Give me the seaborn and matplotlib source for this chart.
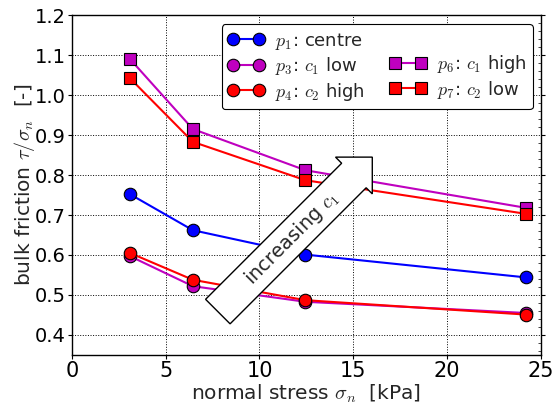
import matplotlib
matplotlib.use("Agg")
import matplotlib.pyplot as plt
import seaborn as sns
import pandas as pd
from matplotlib.lines import Line2D
from matplotlib.ticker import AutoMinorLocator

sns.set_style("white")
plt.rcParams['font.family'] = ['DejaVu Sans']
plt.rcParams['mathtext.fontset'] = 'cm'

sigma_n = [3.1, 6.45, 12.45, 24.2]
p1_centre = [0.752, 0.662, 0.601, 0.544]
p3_c1_low = [0.597, 0.522, 0.483, 0.455]
p4_c2_high = [0.605, 0.538, 0.487, 0.451]
p6_c1_high = [1.090, 0.915, 0.812, 0.718]
p7_c2_low = [1.042, 0.883, 0.787, 0.703]

labels = [r"$p_1$: centre", r"$p_3$: $c_1$ low", r"$p_4$: $c_2$ high",
          r"$p_6$: $c_1$ high", r"$p_7$: $c_2$ low"]
series = [p1_centre, p3_c1_low, p4_c2_high, p6_c1_high, p7_c2_low]
colors = ["#0000ff", "#bf00bf", "#ff0000", "#bf00bf", "#ff0000"]
markers = ["o", "o", "o", "s", "s"]

fig = plt.figure(figsize=(5.57, 4.08), dpi=100)
ax = fig.add_axes([0.129, 0.130, 0.842, 0.833])

handles = []
for vals, lab, c, m in zip(series, labels, colors, markers):
    df = pd.DataFrame({"x": sigma_n, "y": vals})
    sns.lineplot(data=df, x="x", y="y", ax=ax, color=c, marker=m,
                 markersize=9, markeredgecolor="k", markeredgewidth=0.8,
                 linewidth=1.5, label=lab, legend=False)
    handles.append(Line2D([], [], color=c, marker=m, markersize=9,
                          markeredgecolor="k", markeredgewidth=0.8, lw=1.5))

blank = Line2D([], [], color="none", marker=None, lw=0)
leg_handles = handles[:3] + [blank] + handles[3:]
leg_labels = labels[:3] + [""] + labels[3:]
leg = ax.legend(leg_handles, leg_labels, ncol=2, loc="upper right",
                bbox_to_anchor=(0.983, 0.973), numpoints=2, fontsize=13,
                fancybox=True, framealpha=1, edgecolor="k",
                handlelength=2.0, columnspacing=1.4, labelspacing=0.2,
                borderpad=0.35, handletextpad=0.6, borderaxespad=0.0)
leg.get_frame().set_linewidth(0.8)

ax.set_xlim(0, 25)
ax.set_ylim(0.35, 1.2)
ax.set_xticks([0, 5, 10, 15, 20, 25])
ax.set_yticks([0.4, 0.5, 0.6, 0.7, 0.8, 0.9, 1.0, 1.1, 1.2])
ax.set_yticklabels(["0.4", "0.5", "0.6", "0.7", "0.8", "0.9", "1.0", "1.1", "1.2"])
ax.grid(True, color="k", linestyle=":", linewidth=0.7)
ax.tick_params(axis="both", labelsize=14, direction="out", length=3, width=0.8,
               pad=1.5, colors="k", left=True, bottom=True)
ax.tick_params(axis="x", labelsize=15)
ax.tick_params(axis="y", which="both", right=True)
ax.yaxis.set_minor_locator(AutoMinorLocator(5))
ax.tick_params(axis="y", which="minor", left=False, right=True, direction="in", length=2)
for s in ax.spines.values():
    s.set_color("k")
    s.set_linewidth(1.0)

ax.set_xlabel(r"normal stress $\sigma_n$  [kPa]", fontsize=14.5, labelpad=1)
ax.set_ylabel(r"bulk friction $\tau/\sigma_n$  [-]", fontsize=14.5, labelpad=-2)

ax.text(11.65, 0.64, r"      increasing $c_1$      ", rotation=45,
        ha="center", va="center", fontsize=14, rotation_mode="anchor",
        bbox=dict(boxstyle="rarrow,pad=0.3", fc="white", ec="k", lw=1.0),
        zorder=5)

fig.savefig("out.png", dpi=100)
